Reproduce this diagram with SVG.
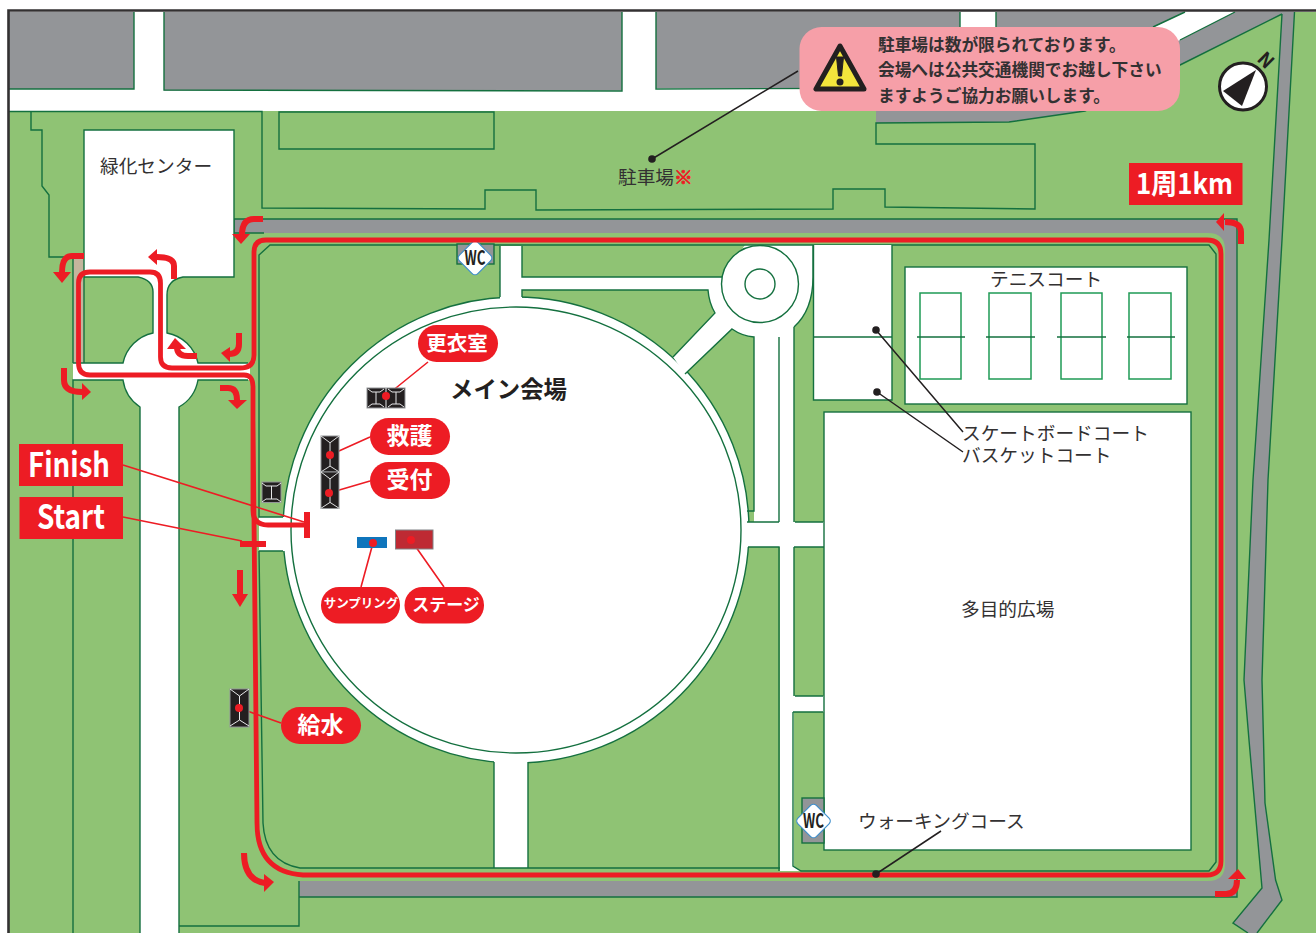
<svg xmlns="http://www.w3.org/2000/svg" width="1316" height="933" viewBox="0 0 1316 933">
<style>
text{font-family:"Noto Sans CJK JP","Noto Sans",sans-serif;fill:#333132}
.l{fill:none;stroke:#14703f;stroke-width:1.4}
.g{fill:#939598}
.w{fill:#fff}
.lab{fill:#fff;font-weight:700}
.pill{fill:#ed1c24}
.lead{fill:none;stroke:#ed1c24;stroke-width:1.6}
.blk{fill:none;stroke:#231f20;stroke-width:1.5}
.dotk{fill:#231f20}
.dotr{fill:#ed1c24}
.route{fill:none;stroke:#ed1c24;stroke-width:4.8}
.ar{fill:none;stroke:#ed1c24;stroke-width:6}
.hd{fill:#ed1c24}
.tent{fill:#231f20;stroke:#939598;stroke-width:1}
.tl{fill:none;stroke:#e6e7e8;stroke-width:1}
.ct{fill:none;stroke:#1f9a55;stroke-width:1.5}
.net{stroke:#14703f;stroke-width:1.3}
.t18{font-size:18.7px}
.wc{fill:#fff;stroke:#3f8ecb;stroke-width:1.2}
</style>
<g id="map">
<rect class="w" width="1316" height="933"/>
<rect x="9" y="111" width="1307" height="822" fill="#8fc374"/>
<path d="M1316,12H1282L1085,111H1316Z" fill="#8fc374"/>
<path class="g" d="M9,12H134V89H9Z"/>
<path class="g" d="M164,12H622V90.500H164Z"/>
<path class="g" d="M656,12H960V88H656Z"/>
<path class="g" d="M996,12H1294.500L1282,240L1268,480L1262,680L1263.500,740L1265,803L1275.600,880L1282,900L1257,933H1248L1233,923L1262,888L1249,740L1244,680L1253,480L1269,240L1282,14L1180,65L1085,111L1009,122L876,123V90H996Z"/>
<path class="w" d="M1185,12H1235L1170,45L1150,29Z"/>
<path class="l" d="M9,89H134V12M164,12V90L622,91V12M656,12V89L960,88V12M996,12V30M1185,12L1153,27M1235,12L1180,40M1282,14L1180,65L1085,111L1009,122L876,123V144H1035V209L885,207V189H833V209L536,210V190H485V209L262,208V111.500H9M31,112V130H42V186L49,195V257H84M279,112H494V149H279ZM1294.500,12L1282,240L1268,480L1262,680L1263.500,740L1265,803L1275.600,880L1282,900L1257,933M1282,14L1269,240L1253,480L1244,680L1249,740L1262,888L1233,923L1248,933"/>
<path class="g" d="M234,219H1237V897H299V881H1208Q1225,881 1225,864V250Q1225,233 1208,233H234Z"/>
<path class="l" d="M234,233V219H1237V897H299M264,233H234M299,881V926H179"/>
<rect x="73" y="257" width="11" height="106" fill="#c4b59d"/>
<path class="w" d="M84,130H234V277H183Q167,280 167,295V333A39,39 0 0 1 198,363H250V380H198A39,39 0 0 1 179,407V933H140V407A39,39 0 0 1 123,380H73V363H123A39,39 0 0 1 153,333V292Q153,280 138,277H84Z"/>
<path class="l" d="M84,277V130H234V277H183Q167,280 167,295V333A39,39 0 0 1 198,363H248M248,380H198A39,39 0 0 1 179,407V933M140,933V407A39,39 0 0 1 123,380H73V933M73,363V258M73,363H123A39,39 0 0 1 153,333V292Q153,280 138,277H84V363"/>
<circle cx="516" cy="530" r="233" class="l" style="fill:#fff"/>
<path class="w" d="M500,246H522V277H722L745,245H813V277Q813,310 794,327V522H824V547H794V696H824V712H794V866L801,871H780V547H745V522H754V337Q742,336 732,329L685,374L673,357L715,313Q709,303 708,290H522V302H500Z"/>
<rect class="w" x="494" y="755" width="34" height="113"/>
<rect class="w" x="259" y="517" width="32" height="34"/>
<path class="l" d="M500,297V246M522,246V277H722M522,297V290H708Q709,303 715,313L673,357M685,374L732,329Q742,336 754,337V511H747M747,522H779M795,522H823M748,547H779V871M794,547H824M795,696H823M793,712H823M779,337V522M794,327V522M794,547V696M793,712V866L801,871H1209L1216,862V254L1209,245H270L259,255V517H283M259,551H283M259,551L263,823Q265,862 300,868H780M494,762V868M528,762V868M813,245V277Q813,310 794,327"/>
<circle class="w" cx="760" cy="284" r="38.500"/>
<circle class="l" cx="760" cy="284" r="38.500"/>
<circle class="l" cx="760" cy="284" r="15"/>
<ellipse class="l" cx="516" cy="530" rx="225" ry="223"/>
<path d="M8.500,933V10.500H1316" fill="none" stroke="#333132" stroke-width="2.600"/>
</g>
<g id="skate-basket-court"><rect class="w" x="813.500" y="245" width="78.500" height="155"/><path class="l" d="M813.500,245V400H892V245M813.500,337H892"/></g>
<g id="multipurpose-field"><rect class="l" style="fill:#fff" x="824" y="412" width="367" height="438"/><text class="t18" x="961" y="616">多目的広場</text></g>
<g id="tennis-court">
<rect class="l" style="fill:#fff" x="905" y="267" width="282" height="137"/>
<rect class="ct" x="920" y="293" width="41" height="86"/><rect class="ct" x="989" y="293" width="42" height="86"/><rect class="ct" x="1061" y="293" width="41" height="86"/><rect class="ct" x="1129" y="293" width="42" height="86"/>
<path class="net" d="M917,337H965M986,337H1035M1057,337H1106M1127,337H1175"/>
<text class="t18" x="990" y="286">テニスコート</text>
</g>
<g id="wc-north"><rect class="l" style="fill:#939598" x="457" y="244" width="37" height="20"/><rect class="wc" x="462" y="245" width="26" height="26" rx="4" transform="rotate(45 475 258)"/><text x="475" y="265" text-anchor="middle" font-size="20" font-weight="700" textLength="21" lengthAdjust="spacingAndGlyphs" style="fill:#231f20">WC</text></g>
<g id="wc-south"><rect class="l" style="fill:#939598" x="802" y="798" width="22" height="45"/><rect class="wc" x="800.500" y="808" width="26" height="26" rx="4" transform="rotate(45 813.500 821)"/><text x="813.500" y="828" text-anchor="middle" font-size="20" font-weight="700" textLength="21" lengthAdjust="spacingAndGlyphs" style="fill:#231f20">WC</text></g>
<g id="connectors">
<g id="route">
<path class="route" d="M253,510V388Q253.500,375 244,375H90Q78.500,375 78.500,363V283Q78.500,272 90,272H150Q160.500,272 160.500,283V357Q160.500,368 172,368H240Q254,368 254,355V252Q254,240 266,240H1207Q1221,240 1221,254V861Q1221,875 1207,875H303Q257,872 257,823L253,420"/>
<path class="route" d="M253,510Q253,525 268,525H307"/>
<path class="route" d="M307,512V538" style="stroke-width:6"/>
<path class="route" d="M240,544H266" style="stroke-width:6"/>
<path class="ar" d="M263,219H254Q242,219 242,235"/><polygon class="hd" points="232,234 250,234 241,244"/>
<path class="ar" d="M84,256H72Q62,256 62,272"/><polygon class="hd" points="53,272 71,272 62,283"/>
<path class="ar" d="M174,279V266Q174,257 157,257"/><polygon class="hd" points="157,249 157,265 148,257"/>
<path class="ar" d="M197,356H188Q177,356 177,347"/><polygon class="hd" points="167,349 186,349 175,338"/>
<path class="ar" d="M239,333V344Q239,354 229,354"/><polygon class="hd" points="230,347 230,362 221,353"/>
<path class="ar" d="M64,368V380Q64,392 82,392"/><polygon class="hd" points="82,383 82,400 91,392"/>
<path class="ar" d="M220,388H228Q237,388 237,400"/><polygon class="hd" points="228,400 247,400 237,409"/>
<path class="ar" d="M240,570V594"/><polygon class="hd" points="232,594 248,594 240,607"/>
<path class="ar" d="M244,853Q244,880 265,883"/><polygon class="hd" points="264,874 264,892 274,882"/>
<path class="ar" d="M1215,894H1226Q1237,894 1237,880"/><polygon class="hd" points="1228,879 1246,879 1238,869"/>
<path class="ar" d="M1241,244V232Q1241,222 1225,222"/><polygon class="hd" points="1224,213 1224,231 1216,222"/>
</g>
<path class="lead" d="M123,465L304,522M123,517L242,541M386,396L428,362M330,455L370,437M329,493L370,481M373,543L361,587M411,540L444,587M239,708L281,723"/>
<path class="blk" d="M798,71L652,159M876,330L963,432M877,392L963,452M876,874L941,831"/>
</g>
<defs>
<g id="tv"><path class="tl" d="M0,0L9.500,7L19,0M9.500,7V31M0,37L9.500,31L19,37"/></g>
</defs>
<g id="tent-kyugo"><rect class="tent" x="321" y="436" width="18" height="36"/><use href="#tv" transform="translate(321,436) scale(.95,.97)"/></g>
<g id="tent-uketsuke"><rect class="tent" x="321" y="472" width="18" height="36.500"/><use href="#tv" transform="translate(321,472) scale(.95,.98)"/></g>
<g id="tent-water"><rect class="tent" x="230" y="689" width="19" height="38"/><use href="#tv" transform="translate(230,689)"/></g>
<g id="tent-small"><rect class="tent" x="262" y="482" width="19" height="20.500"/><path class="tl" d="M262,483L266,486H277L281,483M271.500,486V499M262,502L266,499H277L281,502"/></g>
<g id="tent-kouishitsu"><rect class="tent" x="367" y="388" width="38" height="20"/><path class="tl" d="M368,389L372,392H380L384,389M376,392V404M368,407L372,404H380L384,407M388,389L392,392H400L404,389M396,392V404M388,407L392,404H400L404,407M386,388V408"/></g>
<g id="booth-sampling"><rect x="357" y="537" width="30" height="11" fill="#0f75bc"/></g>
<g id="stage"><rect x="395.500" y="530" width="37.500" height="19" fill="#be2a33" stroke="#808285"/></g>
<g id="dots">
<circle class="dotr" cx="386" cy="396" r="4"/><circle class="dotr" cx="330" cy="455" r="4"/><circle class="dotr" cx="329" cy="493" r="4"/><circle class="dotr" cx="373" cy="543" r="4"/><circle class="dotr" cx="411" cy="540" r="4"/><circle class="dotr" cx="239" cy="708" r="4"/>
<circle class="dotk" cx="652" cy="159" r="3.800"/><circle class="dotk" cx="876" cy="330" r="3.800"/><circle class="dotk" cx="877" cy="392" r="3.800"/><circle class="dotk" cx="876" cy="874" r="3.800"/>
</g>
<g id="label-finish"><rect class="pill" x="19" y="444" width="104" height="42"/><text class="lab" x="28" y="477" font-size="33" textLength="82" lengthAdjust="spacingAndGlyphs">Finish</text></g>
<g id="label-start"><rect class="pill" x="19.500" y="497" width="103.500" height="42"/><text class="lab" x="37" y="529" font-size="33" textLength="68" lengthAdjust="spacingAndGlyphs">Start</text></g>
<g id="label-distance"><rect class="pill" x="1129" y="163" width="113.500" height="42"/><text class="lab" x="1136" y="194" font-size="28" textLength="97" lengthAdjust="spacingAndGlyphs">1周1km</text></g>
<g id="label-kouishitsu"><rect class="pill" x="418" y="325" width="80" height="37" rx="18.500"/><text class="lab" x="457" y="350.500" text-anchor="middle" font-size="20.500">更衣室</text></g>
<g id="label-kyugo"><rect class="pill" x="370" y="418" width="80" height="37" rx="18.500"/><text class="lab" x="409.500" y="444" text-anchor="middle" font-size="23">救護</text></g>
<g id="label-uketsuke"><rect class="pill" x="370" y="462" width="80" height="37" rx="18.500"/><text class="lab" x="409.500" y="488" text-anchor="middle" font-size="23">受付</text></g>
<g id="label-sampling"><rect class="pill" x="321" y="587" width="79" height="36.500" rx="18"/><text class="lab" x="361" y="608" text-anchor="middle" font-size="12.500">サンプリング</text></g>
<g id="label-stage"><rect class="pill" x="404.500" y="587" width="79.500" height="36.500" rx="18"/><text class="lab" x="446" y="611" text-anchor="middle" font-size="17">ステージ</text></g>
<g id="label-water"><rect class="pill" x="281" y="707" width="80" height="37" rx="18.500"/><text class="lab" x="320.500" y="733" text-anchor="middle" font-size="23">給水</text></g>
<g id="texts">
<text class="t18" x="100" y="173">緑化センター</text>
<text class="t18" x="618" y="184">駐車場<tspan style="fill:#ed1c24;font-weight:700;stroke:#ed1c24;stroke-width:.8">※</tspan></text>
<text class="t18" x="962" y="439.500">スケートボードコート</text>
<text class="t18" x="962" y="461.500">バスケットコート</text>
<text class="t18" x="858" y="828">ウォーキングコース</text>
<text x="450" y="398" font-size="23.400" font-weight="700" style="fill:#231f20">メイン会場</text>
</g>
<g id="notice">
<rect x="799.500" y="27" width="380.500" height="84" rx="22" fill="#f69fa8"/>
<path d="M840,46L816,89H864Z" fill="#f3e53c" stroke="#231f20" stroke-width="5" stroke-linejoin="round"/>
<path d="M836.500,57H843.500L841.500,76H838.500Z" fill="#231f20" stroke="#231f20" stroke-linejoin="round"/>
<circle cx="840" cy="82" r="3.500" fill="#231f20"/>
<g font-size="16.700" font-weight="700"><text x="878" y="51">駐車場は数が限られております。</text><text x="878" y="76">会場へは公共交通機関でお越し下さい</text><text x="878" y="101.500">ますようご協力お願いします。</text></g>
</g>
<g id="compass">
<circle cx="1243" cy="86.500" r="23.500" fill="#fff" stroke="#231f20" stroke-width="3"/>
<polygon points="1256,70 1223,91 1242,106" fill="#231f20"/>
<text x="0" y="7" text-anchor="middle" font-size="19" font-weight="700" transform="translate(1266,60) rotate(45)" style="fill:#231f20">N</text>
</g>
</svg>
